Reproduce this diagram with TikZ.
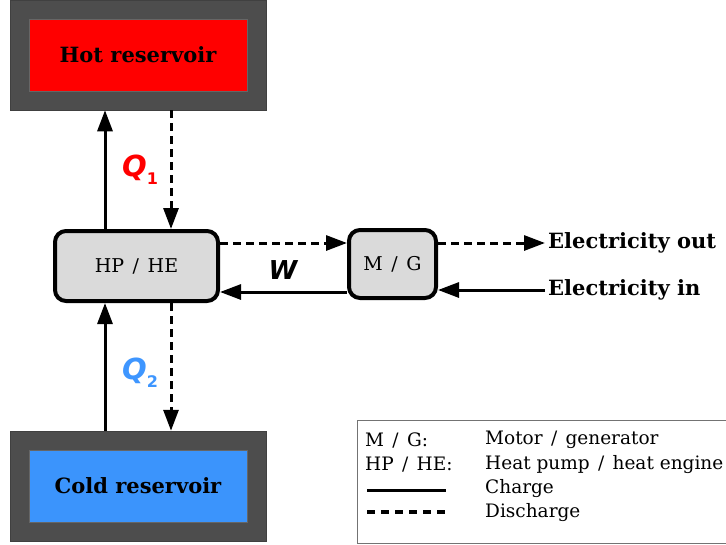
\documentclass[tikz,border=0pt]{standalone}
\usepackage{fontspec}
\setmainfont{DejaVu Serif}
\newfontfamily\qfont{DejaVu Sans}
\usetikzlibrary{arrows.meta}
\definecolor{hotred}{RGB}{255,0,0}
\definecolor{coldblue}{RGB}{59,148,252}
\definecolor{qblue}{RGB}{62,150,255}
\definecolor{shell}{RGB}{77,77,77}
\definecolor{boxgray}{RGB}{218,218,218}
\newcommand{\slsep}{\hspace{0.45em}/\hspace{0.45em}}
\begin{document}
\begin{tikzpicture}[x=1pt,y=-1pt,
  outerbox/.style={fill=shell, draw=black!75, line width=0.5pt, minimum width=256pt, minimum height=110pt, inner sep=0pt},
  res/.style={draw=black!60, line width=0.6pt, minimum width=218pt, minimum height=72pt, inner sep=0pt, font=\bfseries\fontsize{21}{24}\selectfont},
  conv/.style={draw=black, line width=4pt, rounded corners=11pt, fill=boxgray, inner sep=0pt, font=\fontsize{19}{22}\selectfont},
  flow/.style={line width=3pt, -{Triangle[length=21pt,width=15pt]}},
  dis/.style={flow, dash pattern=on 8pt off 5pt},
  qlab/.style={font=\qfont\bfseries\itshape\fontsize{29}{30}\selectfont, inner sep=0pt},
  elab/.style={font=\bfseries\fontsize{21}{24}\selectfont, anchor=west, inner sep=3pt},
  leg/.style={font=\fontsize{18.5}{21}\selectfont, anchor=west, inner sep=0pt},
]
\useasboundingbox (0,0) rectangle (726,544);
\fill[white] (0,0) rectangle (726,544);

% reservoirs
\node[outerbox] (hotout) at (138,55) {};
\node[res, fill=hotred] (hot) at (138,55) {Hot reservoir};
\node[outerbox] (coldout) at (138,486) {};
\node[res, fill=coldblue] (cold) at (138,486) {Cold reservoir};

% converters
\node[conv, minimum width=163pt, minimum height=70pt] (hp) at (136.5,266) {HP\slsep HE};
\node[conv, minimum width=87pt, minimum height=68pt] (mg) at (392.5,264) {M\slsep G};

% helper coordinates
\coordinate (xa) at (105,0);
\coordinate (xb) at (171,0);
\coordinate (yo) at (0,243);
\coordinate (yi) at (0,292);

% vertical flows
\draw[flow] (hp.north -| xa) -- (hotout.south -| xa);
\draw[dis] (hotout.south -| xb) -- (hp.north -| xb);
\draw[flow] (coldout.north -| xa) -- (hp.south -| xa);
\draw[dis] (hp.south -| xb) -- (coldout.north -| xb);

\node[qlab, text=hotred] (q1) at (140,170) {Q\raisebox{-8pt}{\upshape\fontsize{16}{16}\selectfont 1}};
\node[qlab, text=qblue] (q2) at (140,373) {Q\raisebox{-8pt}{\upshape\fontsize{16}{16}\selectfont 2}};

% horizontal flows
\draw[dis] (hp.east |- yo) -- (mg.west |- yo);
\draw[flow] (mg.west |- yi) -- (hp.east |- yi);
\node[font=\qfont\bfseries\itshape\fontsize{26}{28}\selectfont, inner sep=0pt] (w) at (283,270) {W};

\node[elab] (eout) at (545,243) {Electricity out};
\node[elab] (ein) at (545,290) {Electricity in};
\draw[dis] (mg.east |- yo) -- (eout.west);
\draw[flow] (ein.west) -- (mg.east |- ein.west);

% legend
\draw[black!55, line width=0.8pt] (357,420) rectangle (740,543);
\node[leg] (l1a) at (365,440) {M\slsep G:};
\node[leg] (l1b) at (485,440) {Motor\slsep generator};
\node[leg] (l2a) at (365,465) {HP\slsep HE:};
\node[leg] (l2b) at (485,465) {Heat pump\slsep heat engine};
\coordinate (c1) at (367,490);
\coordinate (c2) at (446,490);
\draw[line width=3pt] (c1) -- (c2);
\node[leg] (l3b) at (485,489) {Charge};
\coordinate (d1) at (367,512);
\coordinate (d2) at (446,512);
\draw[line width=3.5pt, dash pattern=on 8pt off 6pt] (d1) -- (d2);
\node[leg] (l4b) at (485,513) {Discharge};
\end{tikzpicture}
\end{document}
